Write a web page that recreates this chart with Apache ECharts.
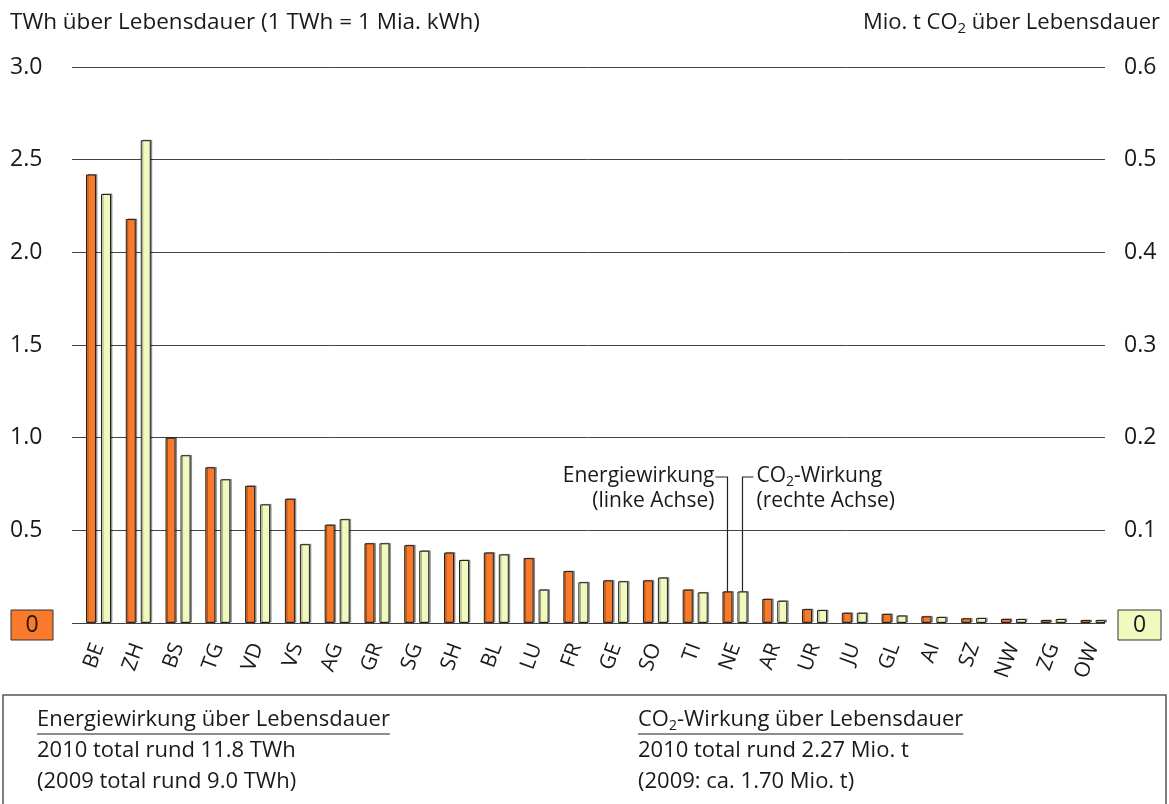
<!DOCTYPE html>
<html>
<head>
<meta charset="utf-8">
<script src="https://cdn.jsdelivr.net/npm/echarts@6/dist/echarts.min.js"></script>
<style>html,body{margin:0;padding:0;background:#fff}#c{width:1169px;height:804px}</style>
</head>
<body>
<div id="c"></div>
<script>
// ---- data ----
const categories = ['BE','ZH','BS','TG','VD','VS','AG','GR','SG','SH','BL','LU','FR','GE','SO','TI','NE','AR','UR','JU','GL','AI','SZ','NW','ZG','OW'];
const energyTWh = [2.42,2.18,1.00,0.84,0.74,0.67,0.53,0.43,0.42,0.38,0.38,0.35,0.28,0.23,0.23,0.18,0.17,0.13,0.075,0.055,0.049,0.036,0.025,0.022,0.016,0.016];
const co2Mt = [0.463,0.521,0.181,0.155,0.128,0.085,0.112,0.086,0.078,0.068,0.074,0.036,0.044,0.045,0.049,0.033,0.034,0.024,0.014,0.011,0.008,0.0065,0.0054,0.0043,0.0043,0.0032];
const leftAxisTitle = 'TWh über Lebensdauer (1 TWh = 1 Mia. kWh)';
const rightAxisTitle = ['Mio. t CO', '2', ' über Lebensdauer'];
const noteLeft = ['Energiewirkung über Lebensdauer', '2010 total rund 11.8 TWh', '(2009 total rund 9.0 TWh)'];
const noteRight = ['CO', '2', '-Wirkung über Lebensdauer', '2010 total rund 2.27 Mio. t', '(2009: ca. 1.70 Mio. t)'];
const annotEnergy = ['Energiewirkung', '(linke Achse)'];
const annotCO2 = ['CO', '2', '-Wirkung', '(rechte Achse)'];
const annotCategory = 'NE';

const FONT = '"Open Sans", "Noto Sans", sans-serif';
const ORANGE = '#F97A2A';
const YELLOW = '#F2F9BE';
const TXT = '#1a1a1a';

const chart = echarts.init(document.getElementById('c'), null, {renderer: 'canvas'});

const measureCtx = document.createElement('canvas').getContext('2d');
function tw(str, size) { measureCtx.font = size + 'px ' + FONT; return measureCtx.measureText(str).width; }

// text with subscript, built from three pieces; y is the vertical middle of the main text
function subText(x, y, parts, size, subSize, drop, alignRight) {
  const w0 = tw(parts[0], size), w1 = tw(parts[1], subSize), w2 = tw(parts[2], size);
  const total = w0 + w1 + w2;
  const sx = alignRight ? x - total : x;
  const base = {fill: TXT, verticalAlign: 'middle', align: 'left'};
  const ySub = y + 0.3 * (size - subSize) + drop;
  return {
    total: total,
    els: [
      {type: 'text', x: sx, y: y, style: Object.assign({text: parts[0], font: size + 'px ' + FONT}, base)},
      {type: 'text', x: sx + w0, y: ySub, style: Object.assign({text: parts[1], font: subSize + 'px ' + FONT}, base)},
      {type: 'text', x: sx + w0 + w1, y: y, style: Object.assign({text: parts[2], font: size + 'px ' + FONT}, base)}
    ]
  };
}

const option = {
  animation: false,
  backgroundColor: '#fff',
  grid: [
    {left: 72, right: 64, top: 67, bottom: 181},
    {left: 78.6, right: 56.1, top: 67, bottom: 181}
  ],
  xAxis: [
    {gridIndex: 0, type: 'category', data: categories, show: false},
    {gridIndex: 1, type: 'category', data: categories,
     axisLine: {show: false}, axisTick: {show: false},
     axisLabel: {interval: 0, rotate: 70, margin: 21, padding: [0, 0, 14, 0],
       fontSize: 21, fontFamily: FONT, color: TXT}}
  ],
  yAxis: [
    {gridIndex: 0, type: 'value', position: 'left', min: 0, max: 3, interval: 0.5,
     axisLine: {show: false}, axisTick: {show: false},
     splitLine: {show: true, lineStyle: {color: '#444', width: 1}},
     axisLabel: {align: 'left', margin: 62, fontSize: 23, fontFamily: FONT, color: TXT,
       formatter: v => v === 0 ? '' : v.toFixed(1)}},
    {gridIndex: 0, type: 'value', position: 'right', min: 0, max: 0.6, interval: 0.1,
     axisLine: {show: false}, axisTick: {show: false}, splitLine: {show: false},
     axisLabel: {margin: 19, fontSize: 23, fontFamily: FONT, color: TXT,
       formatter: v => v === 0 ? '' : v.toFixed(1)}},
    {gridIndex: 1, type: 'value', position: 'left', min: 0, max: 3, show: false},
    {gridIndex: 1, type: 'value', position: 'right', min: 0, max: 0.6, show: false}
  ],
  series: [
    {type: 'bar', name: 'Energiewirkung', xAxisIndex: 1, yAxisIndex: 2, data: energyTWh,
     barWidth: 10, barGap: '50%',
     itemStyle: {color: ORANGE, borderColor: '#222', borderWidth: 1,
       shadowColor: 'rgba(0,0,0,0.35)', shadowOffsetX: 1.5, shadowOffsetY: -0.5, shadowBlur: 0}},
    {type: 'bar', name: 'CO2-Wirkung', xAxisIndex: 1, yAxisIndex: 3, data: co2Mt,
     barWidth: 10, barGap: '50%',
     itemStyle: {color: YELLOW, borderColor: '#222', borderWidth: 1,
       shadowColor: 'rgba(0,0,0,0.35)', shadowOffsetX: 1.5, shadowOffsetY: -0.5, shadowBlur: 0}}
  ]
};
chart.setOption(option);

// ---- annotations / decorations ----
const ni = categories.indexOf(annotCategory);
const cx = chart.convertToPixel({xAxisIndex: 1}, ni);
const xOr = cx - 7.5, xYe = cx + 7.5;
const yOr = chart.convertToPixel({yAxisIndex: 2}, energyTWh[ni]);
const yYe = chart.convertToPixel({yAxisIndex: 3}, co2Mt[ni]);
const y0 = chart.convertToPixel({yAxisIndex: 0}, 0);
const leadY = 477;

const titleR = subText(1160, 23, rightAxisTitle, 22, 15, 4, true);
const annC = subText(xYe + 14, 476, annotCO2, 21, 14, 4, false);
const noteR = subText(638, 720, noteRight, 22, 14, 4, false);
const ulLeftW = tw(noteLeft[0], 22);

const graphics = [
  // axis titles
  {type: 'text', x: 10, y: 23, style: {text: leftAxisTitle, font: '22.5px ' + FONT, fill: TXT, verticalAlign: 'middle'}},
  ...titleR.els,
  // zero boxes
  {type: 'rect', shape: {x: 11, y: y0 - 13, width: 42, height: 30}, style: {fill: ORANGE, stroke: '#333', lineWidth: 1}},
  {type: 'text', x: 32, y: y0 + 2, style: {text: '0', font: '23px ' + FONT, fill: TXT, align: 'center', verticalAlign: 'middle'}},
  {type: 'rect', shape: {x: 1118, y: y0 - 13, width: 43, height: 30}, style: {fill: YELLOW, stroke: '#333', lineWidth: 1}},
  {type: 'text', x: 1139.5, y: y0 + 2, style: {text: '0', font: '23px ' + FONT, fill: TXT, align: 'center', verticalAlign: 'middle'}},
  // leader lines
  {type: 'polyline', shape: {points: [[xOr - 12, leadY], [xOr, leadY], [xOr, yOr]]}, style: {stroke: '#222', lineWidth: 1.2, fill: null}},
  {type: 'polyline', shape: {points: [[xYe, yYe], [xYe, leadY], [xYe + 11, leadY]]}, style: {stroke: '#222', lineWidth: 1.2, fill: null}},
  {type: 'text', x: xOr - 13, y: 476, style: {text: annotEnergy[0], font: '21px ' + FONT, fill: TXT, align: 'right', verticalAlign: 'middle'}},
  {type: 'text', x: xOr - 13, y: 501, style: {text: annotEnergy[1], font: '21px ' + FONT, fill: TXT, align: 'right', verticalAlign: 'middle'}},
  ...annC.els,
  {type: 'text', x: xYe + 14, y: 501, style: {text: annotCO2[3], font: '21px ' + FONT, fill: TXT, verticalAlign: 'middle'}},
  // bottom box
  {type: 'rect', shape: {x: 3, y: 695, width: 1163, height: 130}, style: {fill: null, stroke: '#555', lineWidth: 1.5}},
  {type: 'text', x: 37, y: 720, style: {text: noteLeft[0], font: '22px ' + FONT, fill: TXT, verticalAlign: 'middle'}},
  {type: 'line', shape: {x1: 37, y1: 734, x2: 37 + ulLeftW, y2: 734}, style: {stroke: TXT, lineWidth: 1}},
  {type: 'text', x: 37, y: 751, style: {text: noteLeft[1], font: '22px ' + FONT, fill: TXT, verticalAlign: 'middle'}},
  {type: 'text', x: 37, y: 782, style: {text: noteLeft[2], font: '22px ' + FONT, fill: TXT, verticalAlign: 'middle'}},
  ...noteR.els,
  {type: 'line', shape: {x1: 638, y1: 734, x2: 638 + noteR.total, y2: 734}, style: {stroke: TXT, lineWidth: 1}},
  {type: 'text', x: 638, y: 751, style: {text: noteRight[3], font: '22px ' + FONT, fill: TXT, verticalAlign: 'middle'}},
  {type: 'text', x: 638, y: 782, style: {text: noteRight[4], font: '22px ' + FONT, fill: TXT, verticalAlign: 'middle'}}
];
chart.setOption({graphic: graphics});
</script>
</body>
</html>
